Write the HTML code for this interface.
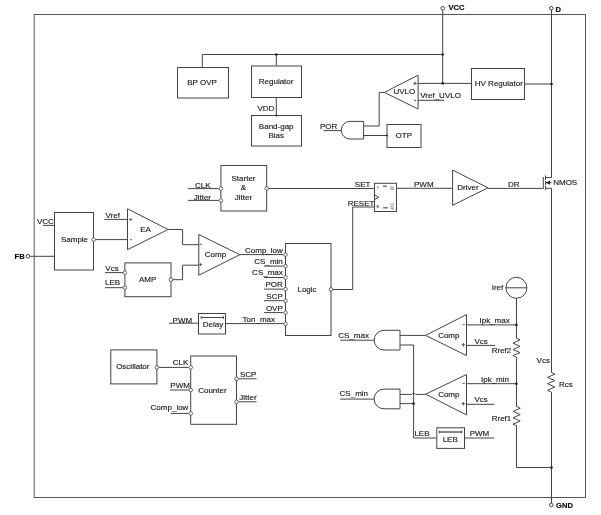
<!DOCTYPE html>
<html><head><meta charset="utf-8">
<style>
html,body{margin:0;padding:0;background:#fff;}
svg{display:block;will-change:transform;}
text{font-family:"Liberation Sans",sans-serif;font-size:8px;fill:#1a1a1a;stroke:#1a1a1a;stroke-width:0.15px;}
.b{font-weight:bold;fill:#000;font-size:7.6px;}
.m{text-anchor:middle;}
.e{text-anchor:end;}
</style></head>
<body>
<svg width="601" height="515" viewBox="0 0 601 515">
<g fill="none" stroke="#444" stroke-width="1">
<!-- border -->
<path d="M34.3 14.5V497.5" stroke="#8a8a8a" stroke-width="1.4"/><path d="M34 14.5H585.5V497.5H34" stroke="#555"/>

<!-- VCC / D pins -->
<circle cx="442.7" cy="8.3" r="1.8" fill="#fff"/>
<path d="M442.7 10V83.4"/>
<circle cx="551.3" cy="8.3" r="1.8" fill="#fff"/>
<path d="M551.5 10V177.5H545.5M545.5 188.3H551.5V372.5M551.5 392.2V503.3"/>

<!-- top wire -->
<path d="M202.3 67.4V54.5H442.7M276.3 54.5V65.6"/>
<rect x="177.5" y="67.5" width="51.0" height="30.5"/>
<rect x="251.5" y="66.0" width="50.0" height="31.5"/>
<path d="M276.3 97.2V115.5"/>
<rect x="251.5" y="115.5" width="50.0" height="30.5"/>

<!-- UVLO -->
<path d="M384.3 92.4L418.1 75.2V109Z"/>
<path d="M418.1 83.4H471.6M418.1 100.3H444.1"/>
<path d="M384.3 92.4H379.2V126H363.6"/>
<path d="M363.6 121.4H350A8.8 8.8 0 0 0 350 139H363.6Z"/>
<path d="M323.6 130.6H341.2M363.6 135.5H387"/>
<rect x="387.0" y="124.5" width="34.0" height="23.0"/>
<rect x="471.5" y="68.5" width="53.0" height="31.0"/>
<path d="M524.7 84H551.5"/>

<!-- Starter & Jitter -->
<rect x="220.9" y="165.5" width="45.8" height="45.5"/>
<path d="M187.9 188.6H218.9M187.9 200.4H218.9M268.5 188.5H374.5"/>
<!-- flip flop -->
<rect x="374.5" y="183.3" width="22" height="28.2"/>
<path d="M374.5 195L378.7 197.3L374.5 199.6"/>
<path d="M331 289.5H352.7V207H374.5"/>
<path d="M396.6 188.3H452.6"/>
<path d="M452.6 170.1V205.3L488 187.8Z"/>
<path d="M488 188.4H543.3"/>
<!-- NMOS -->
<path d="M543.3 177V188.8"/>
<path d="M545.5 175.5V180M545.5 180.8V184.8M545.5 185.8V190"/>
<path d="M545.5 182.7H551.5"/>

<!-- Sample -->
<rect x="54.5" y="212.5" width="39.0" height="57.5"/>
<path d="M43 225.4H54.5M30 256.3H54.5M95.3 239.6H127.5M104.3 219.4H127.5"/>
<circle cx="28" cy="256.3" r="1.8" fill="#fff"/>
<path d="M127.5 208.8V249.7L168 229.5Z"/>
<path d="M168 229.5H182.6V244.7H198.8M172.8 279.7H182.6V265.2H198.8"/>
<rect x="124.9" y="262.9" width="46.1" height="33.8"/>
<path d="M105 272.6H123M105 287.7H123"/>
<path d="M198.8 234.5V275.2L239.8 254.7Z"/>
<path d="M240 254.6H283.3"/>

<!-- Logic -->
<rect x="285.5" y="243.5" width="45.5" height="92.0"/>
<path d="M264 266.1H283.3M264 277.5H283.3M264 289.1H283.3M264 300.7H283.3M264 312.6H283.3M225.5 323.6H283.5"/>

<!-- Delay -->
<rect x="198.5" y="313.5" width="27.0" height="20.5"/>
<path d="M201.2 317.5H223.6M201.2 316.2V319M223.6 316.2V319"/>
<path d="M169 323.2H198.5"/>

<!-- Oscillator / Counter -->
<rect x="110.8" y="349.9" width="46.1" height="34.0"/>
<path d="M158.9 367.4H188.6"/>
<rect x="190.7" y="356.0" width="45.8" height="68.3"/>
<path d="M170 390H188.8M170.8 413.4H188.8M238.4 378.8H256.5M238.4 401.8H256.5"/>

<!-- AND gates + comps -->
<path d="M400 330.3H384A9.85 9.85 0 0 0 384 350H400Z"/>
<path d="M340.2 340.2H374.3M400 335.4H425.6M400 345H413.6V438H436.6"/>
<path d="M425.6 335.4L466.5 314.6V355.6Z"/>
<path d="M400 389.1H384A9.85 9.85 0 0 0 384 408.8H400Z"/>
<path d="M340.2 399.1H374.3M400 394.4H411.6A2.2 2.2 0 0 1 415.6 394.4H425.6M400 403.6H413.6"/>
<path d="M425.6 394.2L466.5 374.5V414.9Z"/>
<path d="M466.5 324.9H516.4M466.5 345.4H495M466.5 383.7H516.4M466.5 404.3H494.5"/>
<!-- signs -->
<path stroke-width="0.9" d="M462.6 324.6H464.8M461.6 344.8H465.2M463.4 343V346.6M462.6 383.4H464.8M461.6 403.7H465.2M463.4 401.9V405.5"/>
<path stroke-width="0.8" d="M129.2 219.4H132.4M130.8 217.8V221M130 239.7H132M199.8 244.2H202M199.1 264.6H202.1M200.6 263.1V266.1"/>
<path stroke-width="0.9" d="M413.2 83.4H416.8M415 81.6V85.2M414 100.4H416.2"/>

<!-- Iref & resistors -->
<circle cx="516.4" cy="287.8" r="10.5"/>
<path d="M505.9 287.8H526.9"/>
<path d="M516.5 298.3V338.3L520 339.8L513 343.1L520 346.4L513 349.6L520 352.6L513 355.6L516.5 357.2V406.4L520.2 408.2L513 411.4L520.2 414.6L513 417.8L520.2 421L513 424.2L516.5 425.6V467.5H551.5"/>
<path d="M551.5 372.5L554.8 374.2L547.5 377.4L554.8 380.5L547.5 383.7L554.8 387L547.5 390.3L551.5 392.2"/>
<circle cx="551.3" cy="505.1" r="1.8" fill="#fff"/>

<!-- LEB -->
<rect x="436.8" y="427.8" width="27.7" height="20.6"/>
<path d="M439.3 432H461.7" stroke-width="1.3"/><path d="M439.3 430.7V433.3M461.7 430.7V433.3"/>
<path d="M464.9 438H494.5"/>
</g>

<!-- pin circles -->
<g fill="#fff" stroke="#444" stroke-width="0.8">
<circle cx="220.9" cy="188.6" r="1.8"/>
<circle cx="220.9" cy="200.4" r="1.8"/>
<circle cx="266.7" cy="188.5" r="1.8"/>
<circle cx="93.5" cy="239.6" r="1.8"/>
<circle cx="124.9" cy="272.6" r="1.8"/>
<circle cx="124.9" cy="287.7" r="1.8"/>
<circle cx="171" cy="279.7" r="1.8"/>
<circle cx="285.5" cy="254.6" r="1.8"/>
<circle cx="285.5" cy="266.2" r="1.8"/>
<circle cx="285.5" cy="277.5" r="1.8"/>
<circle cx="285.5" cy="289.1" r="1.8"/>
<circle cx="285.5" cy="300.8" r="1.8"/>
<circle cx="285.5" cy="312.6" r="1.8"/>
<circle cx="285.5" cy="323.8" r="1.8"/>
<circle cx="331" cy="289.4" r="1.8"/>
<circle cx="156.9" cy="367.5" r="1.8"/>
<circle cx="190.7" cy="367.4" r="1.8"/>
<circle cx="190.7" cy="390" r="1.8"/>
<circle cx="190.7" cy="413.4" r="1.8"/>
<circle cx="236.5" cy="378.8" r="1.8"/>
<circle cx="236.5" cy="401.8" r="1.8"/>
</g>
<!-- junction dots -->
<g fill="#222">
<circle cx="276.3" cy="54.5" r="1.3"/>
<circle cx="442.7" cy="54.5" r="1.3"/>
<circle cx="442.7" cy="83.4" r="1.3"/>
<circle cx="551.5" cy="84" r="1.3"/>
<circle cx="276.3" cy="115.5" r="0.9"/>
<circle cx="387" cy="135.5" r="0.9"/>
<circle cx="516.4" cy="324.9" r="1.3"/>
<circle cx="516.4" cy="383.7" r="1.3"/>
<circle cx="551.5" cy="467.5" r="1.3"/>
<circle cx="413.6" cy="403.6" r="1.3"/>
<path d="M545.8 182.7L550 180.6V184.8Z"/>
</g>

<g fill="#444" stroke="none">
<rect x="383" y="185.6" width="3.8" height="1.1"/><rect x="383.2" y="207.3" width="4.6" height="1.1"/>
</g>
<g fill="none" stroke="#555" stroke-width="0.6">
<path d="M377 186.3L378.6 187.4L377 188.6M377 205.4V208.2M377 205.4H378.3L378.5 206.6H377M377.8 206.6L379 208.2"/>
<circle cx="392" cy="188" r="1.4"/><path d="M392.8 189L393.9 190.3"/>
<circle cx="392" cy="207.4" r="1.4"/><path d="M392.8 208.4L393.9 209.7M390.3 204H394"/>
</g>
<!-- text -->
<text class="b" x="448.4" y="10.1">VCC</text>
<text class="b" x="555.6" y="12.3">D</text>
<text class="b" x="14.6" y="259">FB</text>
<text class="b" x="556" y="508">GND</text>

<text class="m" x="202.1" y="85.2">BP OVP</text>
<text class="m" x="276.1" y="83.7">Regulator</text>
<text x="257.5" y="110.6">VDD</text>
<text class="m" x="276.2" y="128.6">Band-gap</text>
<text class="m" x="276.2" y="137.6">Bias</text>
<text class="m" x="404.3" y="94.4">UVLO</text>
<text x="420.3" y="97.7">Vref_UVLO</text>
<text x="320" y="128.6">POR</text>
<text class="m" x="403.8" y="137.8">OTP</text>
<text class="m" x="498.8" y="86.4">HV Regulator</text>

<text class="m" x="243.5" y="180.8">Starter</text>
<text class="m" x="243.5" y="190.4">&amp;</text>
<text class="m" x="243.5" y="199.7">Jitter</text>
<text x="195" y="188">CLK</text>
<text x="193.7" y="199.5">Jitter</text>
<text x="354.8" y="187.1">SET</text>
<text x="347.7" y="205.5">RESET</text>
<text x="414" y="187">PWM</text>
<text class="m" x="468" y="190.3">Driver</text>
<text x="507.9" y="186.6">DR</text>
<text x="553.2" y="185.2">NMOS</text>

<text x="37" y="223.5">VCC</text>
<text class="m" x="74.5" y="242">Sample</text>
<text x="105.5" y="217.5">Vref</text>
<text class="m" x="145.5" y="232.4">EA</text>
<text x="105.3" y="271">Vcs</text>
<text x="105" y="284.6">LEB</text>
<text class="m" x="147.7" y="282.1">AMP</text>
<text class="m" x="215.5" y="257.2">Comp</text>

<text class="e" x="282.8" y="252.6">Comp_low</text>
<text class="e" x="282.8" y="264">CS_min</text>
<text class="e" x="282.8" y="275.4">CS_max</text>
<text class="e" x="282.8" y="287.4">POR</text>
<text class="e" x="282.8" y="298.6">SCP</text>
<text class="e" x="282.8" y="310.5">OVP</text>
<text x="242.6" y="321.5">Ton_max</text>
<text class="m" x="307" y="292.2">Logic</text>

<text x="172.6" y="322.6">PWM</text>
<text class="m" x="213" y="327.1">Delay</text>
<text class="m" x="132.8" y="368.9">Oscillator</text>
<text x="172.8" y="365">CLK</text>
<text x="170.3" y="387.5">PWM</text>
<text x="150.6" y="409.8">Comp_low</text>
<text class="m" x="212.4" y="392.7">Counter</text>
<text x="240" y="376.5">SCP</text>
<text x="239.3" y="399.5">Jitter</text>

<text x="338.3" y="337.6">CS_max</text>
<text x="339.6" y="396">CS_min</text>
<text class="m" x="448.8" y="337.7">Comp</text>
<text class="m" x="448.8" y="397">Comp</text>
<text x="479.5" y="323">Ipk_max</text>
<text x="474.5" y="343.5">Vcs</text>
<text x="481" y="381.5">Ipk_min</text>
<text x="474.5" y="402">Vcs</text>
<text x="491.7" y="290">Iref</text>
<text x="491.7" y="353.3">Rref2</text>
<text x="491.7" y="421.3">Rref1</text>
<text x="536.6" y="363">Vcs</text>
<text x="559" y="387.2">Rcs</text>
<text x="414.4" y="435.8">LEB</text>
<text class="m" x="450.2" y="441.7">LEB</text>
<text x="469.7" y="435.5">PWM</text>
</svg>
</body></html>
